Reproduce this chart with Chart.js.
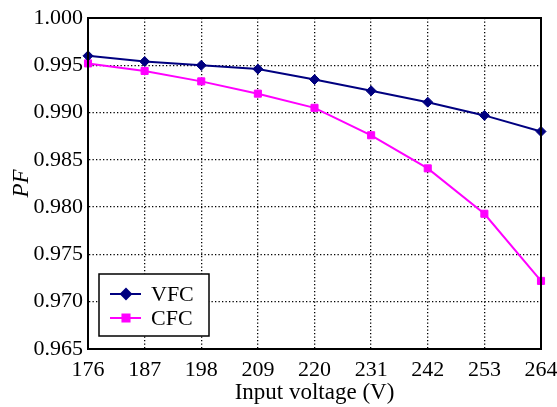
<!DOCTYPE html>
<html>
<head>
<meta charset="utf-8">
<script src="https://cdn.jsdelivr.net/npm/chart.js@4/dist/chart.umd.min.js"></script>
<style>
  html, body { margin: 0; padding: 0; background: #fff; }
  #wrap { width: 557px; height: 407px; }
</style>
</head>
<body>
<div id="wrap"><canvas id="pf"></canvas></div>
<script>
// input voltage (V)
const voltages = ['176', '187', '198', '209', '220', '231', '242', '253', '264']
const vfcPF = [0.9960, 0.9954, 0.9950, 0.9946, 0.9935, 0.9923, 0.9911, 0.9897, 0.9880]
const cfcPF = [0.9952, 0.9944, 0.9933, 0.9920, 0.9905, 0.9876, 0.9841, 0.9793, 0.9722]
const yTicks = [0.965, 0.970, 0.975, 0.980, 0.985, 0.990, 0.995, 1.000]

const serif = "'Liberation Serif', 'Times New Roman', serif"

// legend drawn inside the plot, line + marker like the original
const boxLegend = {
  id: 'boxLegend',
  afterDraw(chart) {
    const ctx = chart.ctx
    const area = chart.chartArea
    const x0 = area.left + 11, y0 = area.bottom - 75
    const w = 110, h = 62
    ctx.save()
    ctx.fillStyle = '#fff'
    ctx.fillRect(x0, y0, w, h)
    ctx.strokeStyle = '#000'
    ctx.lineWidth = 1.5
    ctx.strokeRect(x0, y0, w, h)
    chart.data.datasets.forEach((ds, i) => {
      const cy = y0 + 20 + i * 24
      ctx.strokeStyle = ds.borderColor
      ctx.lineWidth = 2
      ctx.beginPath()
      ctx.moveTo(x0 + 11, cy)
      ctx.lineTo(x0 + 42, cy)
      ctx.stroke()
      Chart.helpers.drawPoint(ctx, {
        pointStyle: ds.pointStyle, radius: ds.pointRadius, borderWidth: 1, rotation: 0
      }, x0 + 27, cy)
      ctx.fillStyle = ds.backgroundColor
      ctx.fill()
      ctx.fillStyle = '#000'
      ctx.font = '22px ' + serif
      ctx.textBaseline = 'middle'
      ctx.fillText(ds.label, x0 + 52, cy + 1)
    })
    // plot frame
    ctx.strokeStyle = '#000'
    ctx.lineWidth = 2
    ctx.strokeRect(area.left, area.top, area.right - area.left, area.bottom - area.top)
    ctx.restore()
  }
}

const pfConfig = {
  type: 'line',
  data: {
    labels: voltages,
    datasets: [
      {
        label: 'VFC',
        data: vfcPF,
        borderColor: '#000080',
        backgroundColor: '#000080',
        borderWidth: 2,
        pointStyle: 'rectRot',
        pointRadius: 5,
        pointBorderWidth: 1,
      },
      {
        label: 'CFC',
        data: cfcPF,
        borderColor: '#ff00ff',
        backgroundColor: '#ff00ff',
        borderWidth: 2,
        pointStyle: 'rect',
        pointRadius: 5,
        pointBorderWidth: 1,
      },
    ],
  },
  options: {
    responsive: true,
    maintainAspectRatio: false,
    animation: false,
    layout: { padding: { left: 0, right: 16, top: 18, bottom: 0 } },
    plugins: {
      legend: { display: false },
      tooltip: { enabled: false },
    },
    scales: {
      x: {
        offset: false,
        grid: { color: '#000', lineWidth: 1.3, drawTicks: false },
        border: { display: true, color: '#000', width: 2, dash: [1.3, 2.2] },
        ticks: { color: '#000', font: { family: serif, size: 22 }, padding: 8, maxRotation: 0 },
        title: {
          display: true,
          text: 'Input voltage (V)',
          color: '#000',
          font: { family: serif, size: 23 },
          padding: { top: 0, bottom: 0 },
        },
        afterFit(scale) {
          scale.height = 58
          // let the end labels hang over the padding instead of shrinking the plot
          scale.paddingLeft = 0
          scale.paddingRight = 0
        },
      },
      y: {
        min: 0.965,
        max: 1.0,
        afterBuildTicks(scale) { scale.ticks = yTicks.map(v => ({ value: v })) },
        grid: { color: '#000', lineWidth: 1.3, drawTicks: false },
        border: { display: true, color: '#000', width: 2, dash: [1.3, 2.2] },
        ticks: {
          color: '#000',
          font: { family: serif, size: 22 },
          padding: 5,
          callback: v => v.toFixed(3),
        },
        title: {
          display: true,
          text: 'PF',
          color: '#000',
          font: { family: serif, size: 23, style: 'italic' },
          padding: { top: 8, bottom: 0 },
        },
        afterFit(scale) {
          scale.width = 88
          scale.paddingTop = 0
          scale.paddingBottom = 0
        },
      },
    },
  },
  plugins: [boxLegend],
}

const pfCtx = document.getElementById('pf')
window.pfChart = new Chart(pfCtx, pfConfig)
</script>
</body>
</html>
